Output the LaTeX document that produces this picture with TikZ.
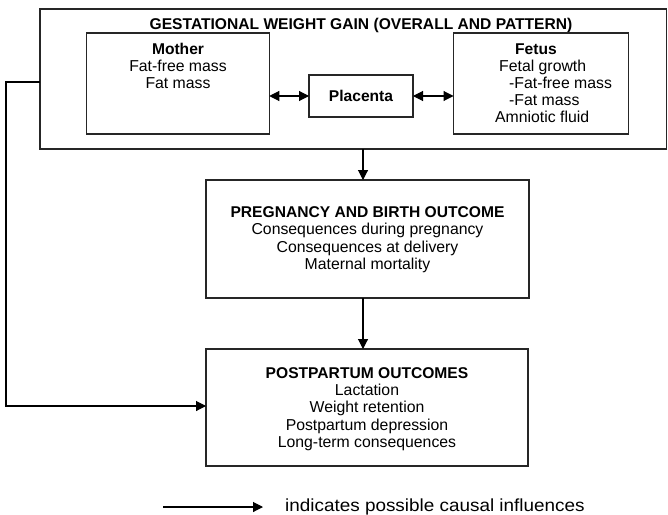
\documentclass[tikz,border=0pt]{standalone}
\usepackage{fontspec}
\setmainfont{Liberation Sans}
\newfontfamily\legfont[FakeStretch=1.08]{Liberation Sans}
\usetikzlibrary{arrows.meta}
\begin{document}
\begin{tikzpicture}[x=1pt,y=-1pt,
  box/.style={draw=black!85, line width=1.1pt, inner sep=0pt, outer sep=0pt},
  txt/.style={font=\fontsize{15.8}{17}\selectfont, inner sep=0pt, anchor=base},
  btxt/.style={txt, font=\fontsize{15.6}{17}\selectfont\bfseries},
  arr/.style={draw=black, line width=1.1pt, -{Triangle[length=10pt,width=10pt]}},
  darr/.style={draw=black, line width=1.1pt, {Triangle[length=10pt,width=10pt]}-{Triangle[length=10pt,width=10pt]}}]
\useasboundingbox (0,0) rectangle (668,514);
% outer box
\node[box, minimum width=626.5pt, minimum height=140pt] (outer) at (353.25,79) {};
\node[btxt] (gtitle) at (361,29) {GESTATIONAL WEIGHT GAIN (OVERALL AND PATTERN)};
% mother
\node[box, minimum width=182.5pt, minimum height=101pt] (mother) at (178,83.5) {};
\node[btxt] (m1) at (178,54) {Mother};
\node[txt] (m2) at (178,71) {Fat-free mass};
\node[txt] (m3) at (178,88) {Fat mass};
% placenta
\node[box, minimum width=104pt, minimum height=42pt] (placenta) at (361,96) {};
\node[btxt] (p1) at (361,101.5) {Placenta};
% fetus
\node[box, minimum width=175pt, minimum height=101pt] (fetus) at (541,83.5) {};
\node[btxt] (f1) at (536,54) {Fetus};
\node[txt, anchor=base west] (f2) at (499,71) {Fetal growth};
\node[txt, anchor=base west] (f3) at (509,88) {-Fat-free mass};
\node[txt, anchor=base west] (f4) at (509,105) {-Fat mass};
\node[txt, anchor=base west] (f5) at (495,122) {Amniotic fluid};
% pregnancy
\node[box, minimum width=323pt, minimum height=118pt] (preg) at (367.5,239) {};
\node[btxt] (q1) at (367.5,217) {PREGNANCY AND BIRTH OUTCOME};
\node[txt] (q2) at (367.5,234.5) {Consequences during pregnancy};
\node[txt] (q3) at (367.5,252) {Consequences at delivery};
\node[txt] (q4) at (367.5,269.5) {Maternal mortality};
% postpartum
\node[box, minimum width=322pt, minimum height=117pt] (post) at (367,407.5) {};
\node[btxt] (r1) at (367,378) {POSTPARTUM OUTCOMES};
\node[txt] (r2) at (367,395) {Lactation};
\node[txt] (r3) at (367,412.5) {Weight retention};
\node[txt] (r4) at (367,430) {Postpartum depression};
\node[txt] (r5) at (367,447.5) {Long-term consequences};
% connectors
\draw[darr] (mother.east |- placenta.west) -- (placenta.west);
\draw[darr] (placenta.east) -- (fetus.west |- placenta.east);
\draw[arr] (outer.south -| 363,0) -- (preg.north -| 363,0);
\draw[arr] (preg.south -| 363,0) -- (post.north -| 363,0);
\coordinate (c1) at (6,82);
\coordinate (c2) at (6,406);
\draw[arr] (outer.west |- c1) -- (c1) -- (c2) -- (post.west |- c2);
% legend
\coordinate (l1) at (163,507);
\coordinate (l2) at (263,507);
\draw[arr] (l1) -- (l2);
\node[txt, anchor=base west, font=\legfont\fontsize{17.5}{20}\selectfont] (leg) at (285,511.5) {indicates possible causal influences};
\end{tikzpicture}
\end{document}
